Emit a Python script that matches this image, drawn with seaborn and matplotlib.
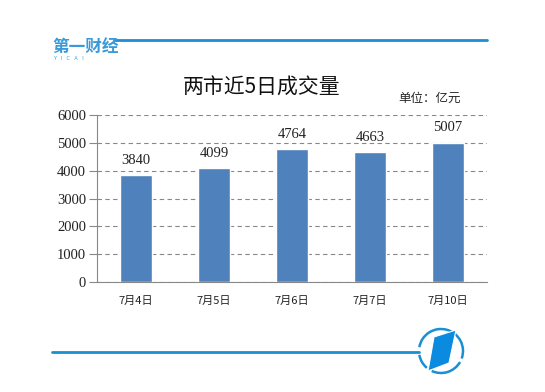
import numpy as np
import pandas as pd
import seaborn as sns
import matplotlib.pyplot as plt
from matplotlib.patches import Arc, Polygon
from matplotlib.lines import Line2D

# data
dates = ['7月4日', '7月5日', '7月6日', '7月7日', '7月10日']
volumes = [3840, 4099, 4764, 4663, 5007]
y_ticks = [0, 1000, 2000, 3000, 4000, 5000, 6000]

sns.set_style('white')
plt.rcParams['font.family'] = ['Liberation Serif', 'Noto Sans CJK SC', 'DejaVu Sans']

W, H = 545, 392
fig = plt.figure(figsize=(W / 100, H / 100), dpi=100)
blue = '#1a8fd1'

def fx(x):
    return x / W

def fy(y):
    return 1 - y / H

# plot area
ax = fig.add_axes([fx(97), fy(282), fx(487) - fx(97), fy(115) - fy(282)])
df = pd.DataFrame({'date': dates, 'volume': volumes})
sns.barplot(data=df, x='date', y='volume', color='#4F81BD', width=0.4,
            saturation=1, ax=ax, zorder=3)

ax.set_xlim(-0.5, len(dates) - 0.5)
ax.set_ylim(0, 6000)
ax.set_yticks(y_ticks)
ax.set_yticklabels([str(v) for v in y_ticks], fontsize=10.5, color='#222222')
ax.set_xlabel('')
ax.set_ylabel('')
ax.set_xticks(range(len(dates)))
ax.set_xticklabels(dates, fontsize=8, family=['Noto Sans CJK SC'], color='#222222')
ax.set_xticks(np.arange(-0.5, len(dates), 1), minor=True)
ax.tick_params(axis='x', which='major', length=0, pad=10)
ax.tick_params(axis='x', which='minor', length=4, color='#888888', direction='out')
ax.tick_params(axis='y', length=6, color='#888888', direction='out', pad=2, left=True)
ax.yaxis.grid(True, linestyle=(0, (4, 3)), color='#888888', linewidth=0.8, zorder=0)
ax.set_axisbelow(True)
for s in ['top', 'right']:
    ax.spines[s].set_visible(False)
for s in ['left', 'bottom']:
    ax.spines[s].set_color('#888888')
    ax.spines[s].set_linewidth(0.8)

for i, v in enumerate(volumes):
    ax.text(i, v + 300, str(v), ha='center', va='bottom', fontsize=10.5, color='#222222')

# titles
fig.text(fx(262), fy(88), '两市近5日成交量', ha='center', va='center', fontsize=15,
         fontweight='medium', family=['Noto Sans CJK SC'], color='#111111')
fig.text(fx(430), fy(98), '单位：亿元', ha='center', va='center', fontsize=9,
         family=['Noto Sans CJK SC'])

# header logo and line
fig.add_artist(Line2D([fx(114), fx(487)], [fy(40), fy(40)], color=blue, linewidth=2))
fig.text(fx(52), fy(47), '第一财经', ha='left', va='center', fontsize=12, fontweight='bold',
         color='#3a9ad9', family=['Noto Sans CJK SC'])
fig.text(fx(53), fy(59), 'Y   I   C   A   I', ha='left', va='center', fontsize=3.5,
         color='#3a9ad9', family=['DejaVu Sans'])

# footer line and icon
fig.add_artist(Line2D([fx(52), fx(419)], [fy(352), fy(352)], color=blue, linewidth=2))
iax = fig.add_axes([fx(416), fy(376), fx(50), fy(326) - fy(376)])
iax.set_xlim(-25, 25)
iax.set_ylim(-25, 25)
iax.axis('off')
iax.add_patch(Arc((0, 0), 44, 44, theta1=-20, theta2=170, color=blue, linewidth=1.8))
iax.add_patch(Arc((0, 0), 44, 44, theta1=190, theta2=230, color=blue, linewidth=1.8))
iax.add_patch(Arc((0, 0), 44, 44, theta1=245, theta2=330, color=blue, linewidth=1.8))
iax.add_patch(Polygon([(-7, 14), (15, 21), (8, -12), (-13, -20)], closed=True,
                      facecolor='#0a8be0', edgecolor='white', linewidth=0.8))

fig.savefig('out.png', dpi=100)
